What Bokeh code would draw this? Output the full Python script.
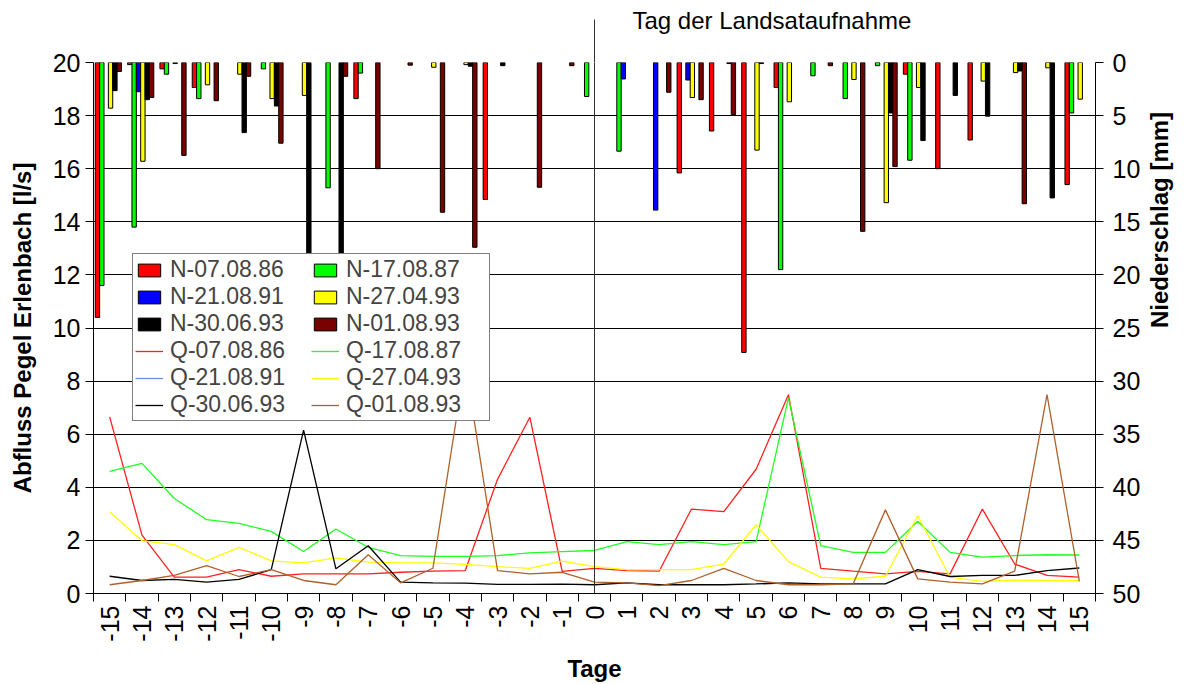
import math
import numpy as np
from bokeh.plotting import figure
from bokeh.models import (Range1d, LinearAxis, FixedTicker, Legend, LegendItem,
                          ColumnDataSource, Span)
from bokeh.embed import file_html
from bokeh.resources import INLINE

# ---------------- data ----------------
days = list(range(-15, 16))

# Niederschlag [mm] per day (bars)
n_070886 = [24.0, 0.2, 0.6, 2.35, 0, 0, 0, 0, 3.4, 0, 0, 0, 12.9, 0, 0, 0,
            0, 0, 10.4, 6.45, 27.3, 2.35, 0, 0, 0, 1.1, 10.0, 7.3, 0, 0, 11.5]
n_170887 = [21.0, 15.5, 1.1, 3.4, 0, 0.6, 0, 11.8, 1.0, 0, 0, 0, 0, 0, 0, 3.2,
            8.35, 0, 0, 0, 0, 19.5, 1.25, 3.4, 0.3, 9.2, 0, 0, 0, 0, 4.75]
n_210891 = [0, 2.75, 0, 0, 0, 0, 0, 0, 0, 0, 0, 0, 0, 0, 0, 0,
            1.55, 13.9, 1.65, 0, 0, 0, 0, 0, 0, 0, 0, 0, 0, 0, 0]
n_270493 = [4.3, 9.3, 0.1, 2.1, 1.1, 3.4, 3.1, 0, 0, 0, 0.45, 0.2, 0, 0, 0, 0,
            0, 0, 3.3, 0, 8.25, 3.7, 0, 1.6, 13.2, 2.35, 0, 1.75, 0.95, 0.5, 3.45]
n_300693 = [2.65, 3.5, 0, 0, 6.6, 4.1, 20.4, 19.2, 0, 0, 0, 0.35, 0.3, 0, 0, 0,
            0, 0, 0, 0.1, 0.1, 0, 0, 0, 4.75, 7.35, 3.1, 5.05, 0.8, 12.75, 0]
n_010893 = [0.85, 3.3, 8.75, 3.6, 1.3, 7.6, 0, 1.3, 10.0, 0.25, 14.1, 17.4, 0, 11.75, 0.3, 0,
            0, 2.8, 3.5, 4.9, 0, 0, 0.3, 15.9, 9.8, 0, 0, 0, 13.3, 0, 0]

# Abfluss [l/s] per day (lines)
q_070886 = [6.65, 2.2, 0.62, 0.62, 0.9, 0.65, 0.74, 0.74, 0.74, 0.8, 0.84, 0.86, 4.3, 6.64, 0.83, 0.95,
            0.86, 0.84, 3.18, 3.08, 4.68, 7.49, 0.95, 0.84, 0.74, 0.83, 0.74, 3.18, 1.11, 0.68, 0.62]
q_170887 = [4.6, 4.9, 3.58, 2.78, 2.64, 2.34, 1.58, 2.43, 1.74, 1.43, 1.4, 1.4, 1.43, 1.53, 1.58, 1.62,
            1.95, 1.84, 1.95, 1.84, 1.95, 7.37, 1.8, 1.55, 1.55, 2.72, 1.55, 1.37, 1.43, 1.46, 1.45]
q_210891 = []  # no visible line in the chart (legend entry only)
q_270493 = [3.08, 1.99, 1.84, 1.23, 1.74, 1.23, 1.15, 1.34, 1.18, 1.15, 1.15, 1.1, 1.01, 0.95, 1.22, 1.01,
            0.9, 0.9, 0.9, 1.11, 2.59, 1.2, 0.62, 0.55, 0.65, 2.93, 0.62, 0.46, 0.5, 0.49, 0.48]
q_300693 = [0.65, 0.49, 0.53, 0.43, 0.53, 0.9, 6.15, 0.93, 1.8, 0.43, 0.4, 0.39, 0.34, 0.34, 0.35, 0.33,
            0.4, 0.33, 0.33, 0.33, 0.36, 0.4, 0.36, 0.36, 0.36, 0.9, 0.64, 0.68, 0.68, 0.86, 0.96]
q_010893 = [0.33, 0.49, 0.68, 1.05, 0.64, 0.9, 0.49, 0.33, 1.46, 0.4, 0.95, 8.7, 0.86, 0.74, 0.8, 0.43,
            0.4, 0.3, 0.49, 0.95, 0.49, 0.33, 0.33, 0.36, 3.15, 0.55, 0.43, 0.36, 0.84, 7.49, 0.46]

n_labels = ["N-07.08.86", "N-17.08.87", "N-21.08.91", "N-27.04.93", "N-30.06.93", "N-01.08.93"]
q_labels = ["Q-07.08.86", "Q-17.08.87", "Q-21.08.91", "Q-27.04.93", "Q-30.06.93", "Q-01.08.93"]
y_ticks_left = [0, 2, 4, 6, 8, 10, 12, 14, 16, 18, 20]
y_ticks_right = [0, 5, 10, 15, 20, 25, 30, 35, 40, 45, 50]
day_of_image = 0
top_label = "Tag der Landsataufnahme"
left_title = "Abfluss Pegel Erlenbach [l/s]"
right_title = "Niederschlag [mm]"
x_title = "Tage"

# ---------------- styles / positions ----------------
top_label_pos = 5.49   # horizontal centre of the top note (in day units)
bar_colors = ["#FF0000", "#00FF00", "#0000FF", "#FFFF00", "#000000", "#7A0000"]
line_colors = ["#FF2020", "#20FF20", "#6F8FDF", "#FFFF00", "#000000", "#B0602A"]
FONT = "Liberation Sans"
FS = "25px"

p = figure(width=1189, height=684, x_range=Range1d(-15.5, 15.5), y_range=Range1d(0, 20),
           output_backend="svg", toolbar_location=None,
           min_border_left=93, min_border_right=93, min_border_top=62, min_border_bottom=89)
p.outline_line_color = None
p.background_fill_color = "white"
p.extra_y_ranges = {"mm": Range1d(50, 0)}

# grids
p.xgrid.visible = False
p.ygrid.ticker = FixedTicker(ticks=y_ticks_left)
p.ygrid.grid_line_color = "black"
p.ygrid.grid_line_width = 1

# left axis
ya = p.yaxis[0]
ya.ticker = FixedTicker(ticks=y_ticks_left)
ya.axis_label = left_title

# right axis
ra = LinearAxis(y_range_name="mm", ticker=FixedTicker(ticks=y_ticks_right), axis_label=right_title)
p.add_layout(ra, "right")
try:
    ra.axis_label_orientation = math.pi / 2
except Exception:
    pass

# x axis
xa = p.xaxis[0]
xa.ticker = FixedTicker(ticks=days, minor_ticks=[d - 0.5 for d in days] + [days[-1] + 0.5])
xa.major_label_overrides = {d: str(d) for d in days}
xa.major_label_orientation = math.pi / 2
xa.major_tick_line_color = None
xa.minor_tick_line_color = "black"
xa.minor_tick_in = 0
xa.minor_tick_out = 8
xa.major_tick_out = 8
xa.axis_label = x_title

for ax in [xa, ya, ra]:
    ax.axis_line_color = "black"
    ax.axis_line_width = 1
    ax.major_label_text_font = FONT
    ax.major_label_text_font_size = FS
    ax.major_label_text_color = "black"
    ax.axis_label_text_font = FONT
    ax.axis_label_text_font_size = "24px"
    ax.axis_label_text_font_style = "bold"
    ax.axis_label_text_color = "black"
for ax in [ya, ra]:
    ax.major_tick_in = 0
    ax.major_tick_out = 8
    ax.major_tick_line_color = "black"
    ax.minor_tick_line_color = None
ya.major_label_standoff = 5
ra.major_label_standoff = 9
xa.major_label_standoff = 4
ya.axis_label_standoff = 14
ra.axis_label_standoff = 16
xa.axis_label_standoff = 10

# top axis: marker line above the frame at the Landsat day + note
ta = LinearAxis(ticker=FixedTicker(ticks=[top_label_pos], minor_ticks=[day_of_image]),
                major_label_overrides={top_label_pos: top_label})
ta.axis_line_color = None
ta.major_tick_line_color = None
ta.major_tick_out = 0
ta.major_tick_in = 0
ta.minor_tick_line_color = "#333333"
ta.minor_tick_in = 0
ta.minor_tick_out = 43
ta.major_label_standoff = -14
ta.major_label_text_font = FONT
ta.major_label_text_font_size = "24px"
ta.major_label_text_color = "black"
p.add_layout(ta, "above")

p.add_layout(Span(location=day_of_image, dimension="height", line_color="#333333", line_width=1))

# bars
n_series = [n_070886, n_170887, n_210891, n_270493, n_300693, n_010893]
bw = 0.135
items_n = []
for i, (vals, col, lab) in enumerate(zip(n_series, bar_colors, n_labels)):
    d = np.array(days, dtype=float)
    v = np.array(vals, dtype=float)
    m = v > 0
    src = ColumnDataSource(dict(x=d[m] + (i - 2.5) * bw - 0.04, v=v[m]))
    r = p.vbar(x="x", width=bw, top=0, bottom="v", source=src, y_range_name="mm",
               fill_color=col, line_color="black", line_width=1)
    items_n.append(LegendItem(label=lab, renderers=[r]))

# lines
q_series = [q_070886, q_170887, q_210891, q_270493, q_300693, q_010893]
items_q = []
for vals, col, lab in zip(q_series, line_colors, q_labels):
    if len(vals):
        src = ColumnDataSource(dict(x=days, y=vals))
    else:
        src = ColumnDataSource(dict(x=days, y=[np.nan] * len(days)))
    r = p.line(x="x", y="y", source=src, line_color=col, line_width=1.3)
    items_q.append(LegendItem(label=lab, renderers=[r]))

# legend: 2 columns, filled column by column
col1 = [items_n[0], items_n[2], items_n[4], items_q[0], items_q[2], items_q[4]]
col2 = [items_n[1], items_n[3], items_n[5], items_q[1], items_q[3], items_q[5]]
legend = Legend(items=col1 + col2, location=(39, 172), ncols=2,
                border_line_color="black", border_line_width=1,
                background_fill_color="white", background_fill_alpha=1,
                label_text_font=FONT, label_text_font_size="23px",
                glyph_width=28, glyph_height=16, label_standoff=7,
                padding=2, spacing=0, margin=0, label_height=20, label_width=141)
p.add_layout(legend, "center")

open("out.html", "w").write(file_html(p, INLINE))
